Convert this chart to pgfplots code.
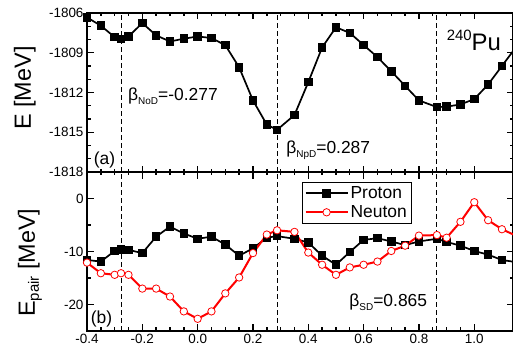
\documentclass[border=0pt]{standalone}
\usepackage{fontspec}
\setmainfont{Liberation Sans}
\usepackage{pgfplots}
\pgfplotsset{compat=1.18}

% small lowered / raised text in text font
\newcommand{\lo}[2][10]{\raisebox{-4bp}{\fontsize{#1}{#1}\selectfont #2}}
\newcommand{\hi}[2][15]{\raisebox{10bp}{\fontsize{#1}{#1}\selectfont #2}}

\pgfplotstableread{
x       E
-0.4   -1806.33
-0.35  -1806.96
-0.3   -1807.82
-0.277 -1807.97
-0.25  -1807.77
-0.2   -1806.76
-0.15  -1807.69
-0.1   -1808.15
-0.05  -1807.94
0.0    -1807.77
0.05   -1807.89
0.1    -1808.43
0.15   -1810.10
0.2    -1812.60
0.25   -1814.42
0.287  -1814.82
0.35   -1813.70
0.4    -1811.22
0.45   -1808.60
0.5    -1807.08
0.55   -1807.50
0.6    -1808.42
0.65   -1809.33
0.7    -1810.40
0.75   -1811.50
0.8    -1812.60
0.865  -1813.10
0.9    -1813.07
0.95   -1812.90
1.0    -1812.50
1.05   -1811.40
1.1    -1810.00
1.15   -1808.60
}\energy

\pgfplotstableread{
x       p      n
-0.4   -11.6  -12.1
-0.35  -11.9  -14.1
-0.3    -9.9  -14.4
-0.277  -9.6  -14.1
-0.25   -9.7  -14.4
-0.2   -10.3  -17.0
-0.15   -7.2  -17.0
-0.1    -5.3  -18.5
-0.05   -6.6  -21.3
0.0     -7.6  -22.7
0.05    -7.2  -21.3
0.1     -8.7  -17.9
0.15   -10.8  -14.9
0.2     -9.4  -10.3
0.25    -7.4   -6.8
0.287   -7.1   -6.0
0.35    -7.6   -6.3
0.4     -8.3  -10.2
0.45   -10.8  -12.5
0.5    -12.5  -14.4
0.55   -10.1  -13.0
0.6     -7.8  -12.5
0.65    -7.5  -11.9
0.7     -8.1   -9.9
0.75    -8.8   -8.9
0.8     -8.1   -7.0
0.865   -7.6   -6.9
0.9     -8.2   -7.4
0.95    -8.9   -4.4
1.0     -9.9   -0.7
1.05   -10.6   -4.1
1.1    -11.6   -5.8
1.15   -12.0   -7.0
}\pairing

\pgfplotsset{
  panel/.style={
    scale only axis, width=426bp, height=159bp,
    xmin=-0.4, xmax=1.14,
    xtick={-0.4,-0.2,0,0.2,0.4,0.6,0.8,1.0},
    minor x tick num=3,
    tick align=inside,
    major tick length=6.5bp, minor tick length=3.5bp,
    axis line style={line width=1.8bp},
    every tick/.append style={black, line width=1.4bp},
    tick label style={font=\fontsize{13.5}{16}\selectfont},
    /pgf/number format/assume math mode=true,
    label style={font=\fontsize{23.5}{26}\selectfont},
    yticklabel style={/pgf/number format/set thousands separator={}},
  },
  vbar/.style={black, line width=0.9bp, dash pattern=on 5bp off 3bp, forget plot},
  proton/.style={black, line width=1.7bp, mark=square*, mark size=3.4bp,
    mark options={solid, fill=black}},
  neutron/.style={red, line width=2bp, mark=*, mark size=3.7bp,
    mark options={solid, fill=white, draw=red, line width=0.8bp}},
}
\tikzset{annot/.style={anchor=base west, inner sep=0pt, font=\fontsize{17.5}{20}\selectfont}}

\begin{document}
\begin{tikzpicture}
\useasboundingbox (0,0) rectangle (513bp,354bp);

% (a) total energy
\begin{axis}[panel, at={(87bp,182bp)}, anchor=south west,
  ymin=-1818, ymax=-1806, ytick={-1818,-1815,-1812,-1809,-1806},
  minor y tick num=2, xticklabels={},
  ylabel={E [MeV]},
  ylabel style={at={(axis description cs:-0.146,0.528)}, anchor=center}]
  \addplot[vbar] coordinates {(-0.277,-1818) (-0.277,-1806)};
  \addplot[vbar] coordinates {(0.287,-1818) (0.287,-1806)};
  \addplot[vbar] coordinates {(0.865,-1818) (0.865,-1806)};
  \addplot[proton] table[x=x, y=E] {\energy};
  \node[annot] at (axis cs:-0.252,-1812.57) {β\lo{NoD}=-0.277};
  \node[annot] at (axis cs:0.320,-1816.64) {β\lo{NpD}=0.287};
  \node[annot, font=\fontsize{24}{26}\selectfont] at (axis cs:0.9,-1808.8) {\hi{240}Pu};
  \node[annot] at (axis cs:-0.376,-1817.45) {(a)};
\end{axis}

% (b) pairing energies
\begin{axis}[panel, at={(87bp,23bp)}, anchor=south west,
  ymin=-25, ymax=5, ytick={-20,-10,0}, minor ytick={-25,-15,-5,5},
  xticklabel style={/pgf/number format/.cd, fixed, fixed zerofill, precision=1},
  ylabel={E\lo[15]{pair} [MeV]},
  ylabel style={at={(axis description cs:-0.134,0.43)}, anchor=center},
  legend style={at={(0.504,0.939)}, anchor=north west, draw=black, line width=0.8bp,
    font=\fontsize{17.5}{20}\selectfont, inner sep=2.5bp, row sep=1.5bp},
  legend cell align=left,
  legend image code/.code={\draw[mark repeat=2, mark phase=2]
    plot coordinates {(0bp,0bp) (21bp,0bp) (42bp,0bp)};}]
  \addplot[vbar] coordinates {(-0.277,-25) (-0.277,5)};
  \addplot[vbar] coordinates {(0.287,-25) (0.287,5)};
  \addplot[vbar] coordinates {(0.865,-25) (0.865,5)};
  \addplot[proton] table[x=x, y=p] {\pairing};
  \addplot[neutron] table[x=x, y=n] {\pairing};
  \legend{Proton, Neuton}
  \node[annot] at (axis cs:-0.387,-23.6) {(b)};
  \node[annot] at (axis cs:0.548,-20.4) {β\lo{SD}=0.865};
\end{axis}
\end{tikzpicture}
\end{document}
